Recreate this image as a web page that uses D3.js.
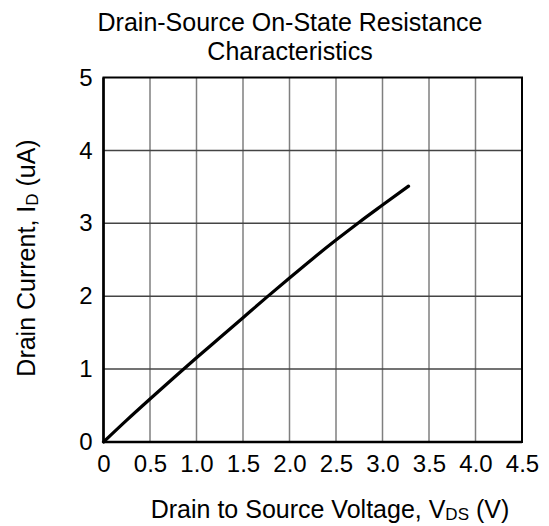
<!DOCTYPE html>
<html>
<head>
<meta charset="utf-8">
<script src="https://cdn.jsdelivr.net/npm/d3@7"></script>
<style>
  body { margin: 0; background: #fff; }
  text { font-family: "Liberation Sans", Arial, sans-serif; fill: #000; }
</style>
</head>
<body>
<div id="chart"></div>
<script>
// data
const vds = [0, 0.25, 0.5, 0.75, 1.0, 1.25, 1.5, 1.75, 2.0, 2.25, 2.5, 2.75, 3.0, 3.28];
const idUa = [0, 0.30, 0.59, 0.875, 1.155, 1.43, 1.705, 1.98, 2.25, 2.515, 2.77, 3.015, 3.25, 3.51];
const xTicks = [0, 0.5, 1.0, 1.5, 2.0, 2.5, 3.0, 3.5, 4.0, 4.5];
const xTickLabels = ['0', '0.5', '1.0', '1.5', '2.0', '2.5', '3.0', '3.5', '4.0', '4.5'];
const yTicks = [0, 1, 2, 3, 4, 5];

const width = 549;
const height = 526;
const margin = { top: 77.5, right: 27, bottom: 84, left: 103.5 };
const innerW = width - margin.left - margin.right;
const innerH = height - margin.top - margin.bottom;
const FONT = '"Liberation Sans", Arial, sans-serif';

const svg = d3.select('#chart')
  .append('svg')
  .attr('width', width)
  .attr('height', height);

const scaleX = d3.scaleLinear().domain([0, 4.5]).range([0, innerW]);
const scaleY = d3.scaleLinear().domain([0, 5]).range([innerH, 0]);

const g = svg.append('g')
  .attr('transform', `translate(${margin.left},${margin.top})`);

// grid
g.selectAll('.vgrid')
  .data(xTicks.slice(1, -1))
  .join('line')
  .attr('x1', (d) => scaleX(d))
  .attr('x2', (d) => scaleX(d))
  .attr('y1', 0)
  .attr('y2', innerH)
  .attr('stroke', '#7f7f7f')
  .attr('stroke-width', 1.5);

g.selectAll('.hgrid')
  .data(yTicks.slice(1, -1))
  .join('line')
  .attr('x1', 0)
  .attr('x2', innerW)
  .attr('y1', (d) => scaleY(d))
  .attr('y2', (d) => scaleY(d))
  .attr('stroke', '#444')
  .attr('stroke-width', 1.5);

// frame
g.append('rect')
  .attr('width', innerW)
  .attr('height', innerH)
  .attr('fill', 'none')
  .attr('stroke', '#000')
  .attr('stroke-width', 2);
g.append('line')
  .attr('x1', 0).attr('x2', 0)
  .attr('y1', 0).attr('y2', innerH)
  .attr('stroke', '#000').attr('stroke-width', 2.5);
g.append('line')
  .attr('x1', 0).attr('x2', innerW)
  .attr('y1', innerH).attr('y2', innerH)
  .attr('stroke', '#000').attr('stroke-width', 2.5);

// axes (labels only)
const axisX = d3.axisBottom(scaleX)
  .tickValues(xTicks)
  .tickFormat((d, i) => xTickLabels[i])
  .tickSize(0)
  .tickPadding(13);
const gx = g.append('g')
  .attr('transform', `translate(0,${innerH})`)
  .call(axisX);
gx.select('.domain').remove();
gx.selectAll('text')
  .style('font-family', FONT)
  .style('font-size', '24px')
  .attr('fill', '#000');

const axisY = d3.axisLeft(scaleY)
  .tickValues(yTicks)
  .tickFormat(d3.format('d'))
  .tickSize(0)
  .tickPadding(11);
const gy = g.append('g').call(axisY);
gy.select('.domain').remove();
gy.selectAll('text')
  .style('font-family', FONT)
  .style('font-size', '24px')
  .attr('fill', '#000');

// curve
const line = d3.line()
  .x((d, i) => scaleX(vds[i]))
  .y((d) => scaleY(d))
  .curve(d3.curveMonotoneX);
g.append('path')
  .datum(idUa)
  .attr('d', line)
  .attr('fill', 'none')
  .attr('stroke', '#000')
  .attr('stroke-width', 3.2)
  .attr('stroke-linecap', 'round');

// title
const title = svg.append('text')
  .attr('text-anchor', 'middle')
  .style('font-size', '25px');
title.append('tspan').attr('x', 290).attr('y', 31).text('Drain-Source On-State Resistance');
title.append('tspan').attr('x', 290).attr('y', 60).text('Characteristics');

// x axis title
const xt = svg.append('text')
  .attr('x', 330)
  .attr('y', 518)
  .attr('text-anchor', 'middle')
  .style('font-size', '25px');
xt.append('tspan').text('Drain to Source Voltage, V');
xt.append('tspan').style('font-size', '17px').attr('dy', 2).text('DS');
xt.append('tspan').attr('dy', -2).text(' (V)');

// y axis title
const yt = svg.append('text')
  .attr('transform', 'translate(35,258) rotate(-90)')
  .attr('text-anchor', 'middle')
  .style('font-size', '25px');
yt.append('tspan').text('Drain Current, I');
yt.append('tspan').style('font-size', '17px').attr('dy', 3).text('D');
yt.append('tspan').attr('dy', -3).text(' (uA)');
</script>
</body>
</html>
